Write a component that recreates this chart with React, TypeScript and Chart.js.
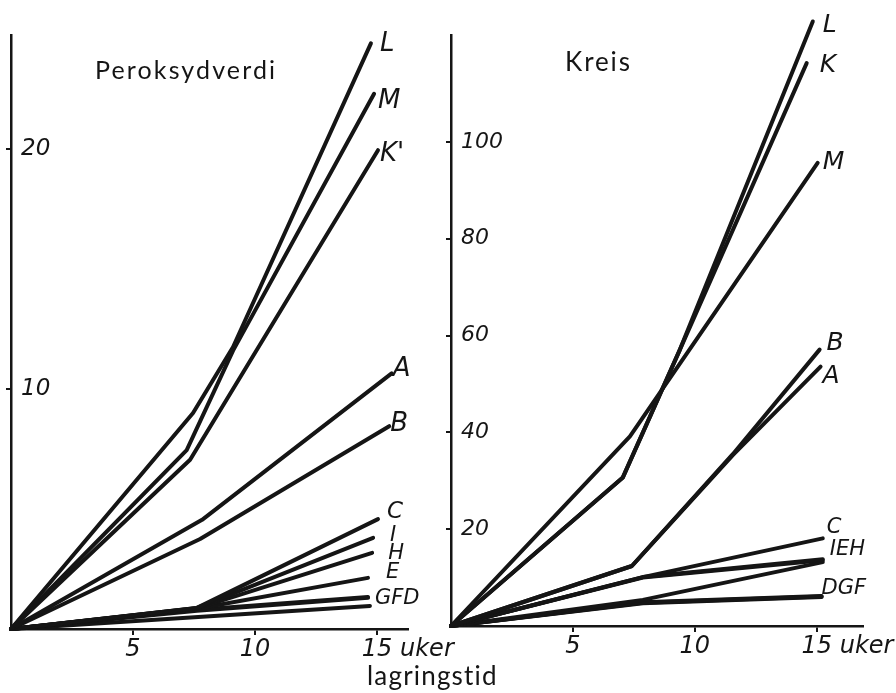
import React, { useEffect, useRef } from 'react';
import { Chart, registerables } from 'chart.js';

Chart.register(...registerables);

type Pt = [number, number];

// ---------- Peroksydverdi (left panel): [uker, verdi] ----------
const perL: Pt[] = [[0, 0], [7.46, 9.0], [9.1, 11.75], [14.75, 24.4]];
const perM: Pt[] = [[0, 0], [7.2, 7.45], [9.1, 11.6], [14.88, 22.3]];
const perK: Pt[] = [[0, 0], [7.34, 7.05], [15.04, 19.95]];
const perA: Pt[] = [[0, 0], [7.83, 4.55], [15.6, 10.65]];
const perB: Pt[] = [[0, 0], [7.75, 3.75], [15.5, 8.45]];
const perC: Pt[] = [[0, 0], [7.62, 0.88], [15.04, 4.58]];
const perI: Pt[] = [[0, 0], [7.62, 0.88], [14.84, 3.8]];
const perH: Pt[] = [[0, 0], [7.62, 0.86], [14.8, 3.17]];
const perE: Pt[] = [[0, 0], [7.62, 0.84], [14.63, 2.13]];
const perG: Pt[] = [[0, 0], [7.62, 0.8], [14.63, 1.33]];
const perF: Pt[] = [[0, 0], [7.62, 0.76], [14.63, 1.3]];
const perD: Pt[] = [[0, 0], [14.71, 0.96]];

// ---------- Kreis (right panel): [uker, verdi] ----------
const kreL: Pt[] = [[0, 0], [7.05, 30.7], [9.39, 57.1], [14.84, 124.9]];
const kreK: Pt[] = [[0, 0], [7.05, 30.7], [9.39, 57.1], [14.59, 116.3]];
const kreM: Pt[] = [[0, 0], [7.34, 39.2], [15.04, 95.7]];
const kreB: Pt[] = [[0, 0], [7.42, 12.4], [11.56, 35.5], [15.12, 57.1]];
const kreA: Pt[] = [[0, 0], [7.42, 12.4], [11.56, 35.3], [15.16, 53.6]];
const kreC: Pt[] = [[0, 0], [7.87, 10.1], [15.25, 18.1]];
const kreI: Pt[] = [[0, 0], [7.87, 10.1], [15.25, 13.8]];
const kreE: Pt[] = [[0, 0], [7.87, 10.0], [15.25, 13.6]];
const kreH: Pt[] = [[0, 0], [7.87, 5.4], [15.25, 13.2]];
const kreD: Pt[] = [[0, 0], [7.87, 4.9], [15.2, 6.2]];
const kreG: Pt[] = [[0, 0], [7.87, 4.8], [15.2, 6.1]];
const kreF: Pt[] = [[0, 0], [7.87, 4.7], [15.2, 6.0]];

// ---------- axes ----------
const xTickWeeks = [5, 10, 15];
const perYTicks = [10, 20];
const kreYTicks = [20, 40, 60, 80, 100];
const perXMax = 16.27;
const perYMax = 24.75;
const kreXMax = 16.9;
const kreYMax = 122.1;

// ---------- texts ----------
const perTitle = 'Peroksydverdi';
const kreTitle = 'Kreis';
const xUnit = 'uker';
const xTitle = 'lagringstid';

const INK = '#151515';
const HAND = '"DejaVu Sans", sans-serif';
const PRINT = 'Lato, "Open Sans", sans-serif';

type Lab = { text: string; series: string; dx: number; dy: number; size: number };
type Txt = { text: string; x: number; y: number; size: number; width: number; align?: CanvasTextAlign };

const perLabels: Lab[] = [
  { text: 'L', series: 'L', dx: 9, dy: 1, size: 26 },
  { text: 'M', series: 'M', dx: 4, dy: 7, size: 26 },
  { text: "K'", series: "K'", dx: 2, dy: 4, size: 26 },
  { text: 'A', series: 'A', dx: 1, dy: -4, size: 26 },
  { text: 'B', series: 'B', dx: 1, dy: -2, size: 26 },
  { text: 'C', series: 'C', dx: 9, dy: -7, size: 23 },
  { text: 'I', series: 'I', dx: 17, dy: -2, size: 21 },
  { text: 'H', series: 'H', dx: 16, dy: 1, size: 21 },
  { text: 'E', series: 'E', dx: 18, dy: -5, size: 21 },
  { text: 'GFD', series: 'G', dx: 7, dy: 1, size: 21 },
];

const kreLabels: Lab[] = [
  { text: 'L', series: 'L', dx: 10, dy: 4, size: 25 },
  { text: 'K', series: 'K', dx: 13, dy: 2, size: 25 },
  { text: 'M', series: 'M', dx: 5, dy: 0, size: 25 },
  { text: 'B', series: 'B', dx: 7, dy: -6, size: 25 },
  { text: 'A', series: 'A', dx: 2, dy: 10, size: 25 },
  { text: 'C', series: 'C', dx: 4, dy: -11, size: 21 },
  { text: 'IEH', series: 'I', dx: 7, dy: -10, size: 21 },
  { text: 'DGF', series: 'D', dx: 0, dy: -7, size: 21 },
];

type PanelDef = {
  series: [string, Pt[]][];
  labels: Lab[];
  texts: Txt[];
  xMax: number;
  yMax: number;
  yTicks: number[];
  padLeft: number;
  padRight: number;
  axisBottom: number;
  yTickSize: number;
};

const leftPanel: PanelDef = {
  series: [
    ['L', perL], ['M', perM], ["K'", perK], ['A', perA], ['B', perB], ['C', perC],
    ['I', perI], ['H', perH], ['E', perE], ['G', perG], ['F', perF], ['D', perD],
  ],
  labels: perLabels,
  texts: [
    { text: perTitle, x: 95, y: 79, size: 25, width: 180 },
    { text: xTitle, x: 367, y: 685, size: 26, width: 130 },
  ],
  xMax: perXMax,
  yMax: perYMax,
  yTicks: perYTicks,
  padLeft: 11,
  padRight: 896 - 408,
  axisBottom: 629,
  yTickSize: 23,
};

const rightPanel: PanelDef = {
  series: [
    ['L', kreL], ['K', kreK], ['M', kreM], ['B', kreB], ['A', kreA], ['C', kreC],
    ['I', kreI], ['E', kreE], ['H', kreH], ['D', kreD], ['G', kreG], ['F', kreF],
  ],
  labels: kreLabels,
  texts: [{ text: kreTitle, x: 565, y: 71, size: 26, width: 65 }],
  xMax: kreXMax,
  yMax: kreYMax,
  yTicks: kreYTicks,
  padLeft: 451,
  padRight: 896 - 863,
  axisBottom: 626,
  yTickSize: 22,
};

const X_TICK_SIZE = 24;
const TICK_LEN = 6;

function makeAnnotate(p: PanelDef) {
  return {
    id: 'annotate',
    afterDraw(chart: any) {
      const ctx: CanvasRenderingContext2D = chart.ctx;
      ctx.save();
      ctx.fillStyle = INK;
      ctx.textAlign = 'left';
      ctx.textBaseline = 'middle';
      // letters at the end of the curves
      for (const lab of p.labels) {
        const idx = chart.data.datasets.findIndex((d: any) => d.label === lab.series);
        if (idx < 0) continue;
        const meta = chart.getDatasetMeta(idx);
        const el = meta.data[meta.data.length - 1];
        ctx.font = `italic ${lab.size}px ${HAND}`;
        ctx.fillText(lab.text, el.x + lab.dx, el.y + lab.dy);
      }
      // unit after the last x tick
      const xs = chart.scales.x;
      ctx.font = `italic ${X_TICK_SIZE}px ${HAND}`;
      const last = xTickWeeks[xTickWeeks.length - 1];
      ctx.fillText(xUnit, xs.getPixelForValue(last) + 23, xs.top + TICK_LEN + X_TICK_SIZE * 0.6);
      // printed titles
      ctx.textBaseline = 'alphabetic';
      for (const t of p.texts) {
        ctx.font = `${t.size}px ${PRINT}`;
        (ctx as any).letterSpacing = '0px';
        const w = ctx.measureText(t.text).width;
        const sp = (t.width - w) / Math.max(1, t.text.length - 1);
        (ctx as any).letterSpacing = `${sp}px`;
        ctx.textAlign = t.align || 'left';
        ctx.fillText(t.text, t.x, t.y);
      }
      ctx.restore();
    },
  };
}

function buildConfig(p: PanelDef): any {
  const datasets = p.series.map(([label, pts]) => ({
    label,
    data: pts.map(([x, y]) => ({ x, y })),
    borderColor: INK,
    backgroundColor: INK,
    borderWidth: 4,
    pointRadius: 0,
    pointHoverRadius: 0,
    fill: false,
    tension: 0,
    clip: false,
    borderCapStyle: 'round',
    borderJoinStyle: 'round',
  }));
  return {
    type: 'line',
    data: { datasets },
    options: {
      responsive: false,
      animation: false,
      events: [],
      layout: {
        autoPadding: false,
        padding: { left: p.padLeft, right: p.padRight, top: 35, bottom: 0 },
      },
      plugins: { legend: { display: false }, tooltip: { enabled: false }, title: { display: false } },
      scales: {
        x: {
          type: 'linear',
          min: 0,
          max: p.xMax,
          afterBuildTicks: (s: any) => {
            s.ticks = xTickWeeks.map((v) => ({ value: v }));
          },
          afterFit: (s: any) => {
            s.height = 693 - p.axisBottom;
          },
          ticks: {
            color: INK,
            font: { family: HAND, style: 'italic', size: X_TICK_SIZE },
            padding: 0,
            maxRotation: 0,
            autoSkip: false,
          },
          grid: { drawOnChartArea: false, drawTicks: true, tickLength: TICK_LEN, color: INK, lineWidth: 2 },
          border: { display: true, color: INK, width: 2.5 },
        },
        y: {
          type: 'linear',
          min: 0,
          max: p.yMax,
          afterBuildTicks: (s: any) => {
            s.ticks = p.yTicks.map((v) => ({ value: v }));
          },
          afterFit: (s: any) => {
            s.width = 0;
          },
          ticks: {
            mirror: true,
            padding: 10,
            color: INK,
            font: { family: HAND, style: 'italic', size: p.yTickSize },
            autoSkip: false,
          },
          grid: { drawOnChartArea: false, drawTicks: true, tickLength: 5, color: INK, lineWidth: 2 },
          border: { display: true, color: INK, width: 2.5 },
        },
      },
    },
    plugins: [makeAnnotate(p)],
  };
}

function Panel({ def }: { def: PanelDef }) {
  const ref = useRef<HTMLCanvasElement>(null);
  useEffect(() => {
    if (!ref.current) return;
    const chart = new Chart(ref.current, buildConfig(def));
    return () => chart.destroy();
  }, [def]);
  return (
    <canvas
      ref={ref}
      width={896}
      height={693}
      style={{ position: 'absolute', left: 0, top: 0, width: 896, height: 693 }}
    />
  );
}

export default function App() {
  return (
    <div
      style={{
        position: 'absolute',
        left: 0,
        top: 0,
        width: 896,
        height: 693,
        background: '#ffffff',
        overflow: 'hidden',
      }}
    >
      <Panel def={leftPanel} />
      <Panel def={rightPanel} />
    </div>
  );
}
